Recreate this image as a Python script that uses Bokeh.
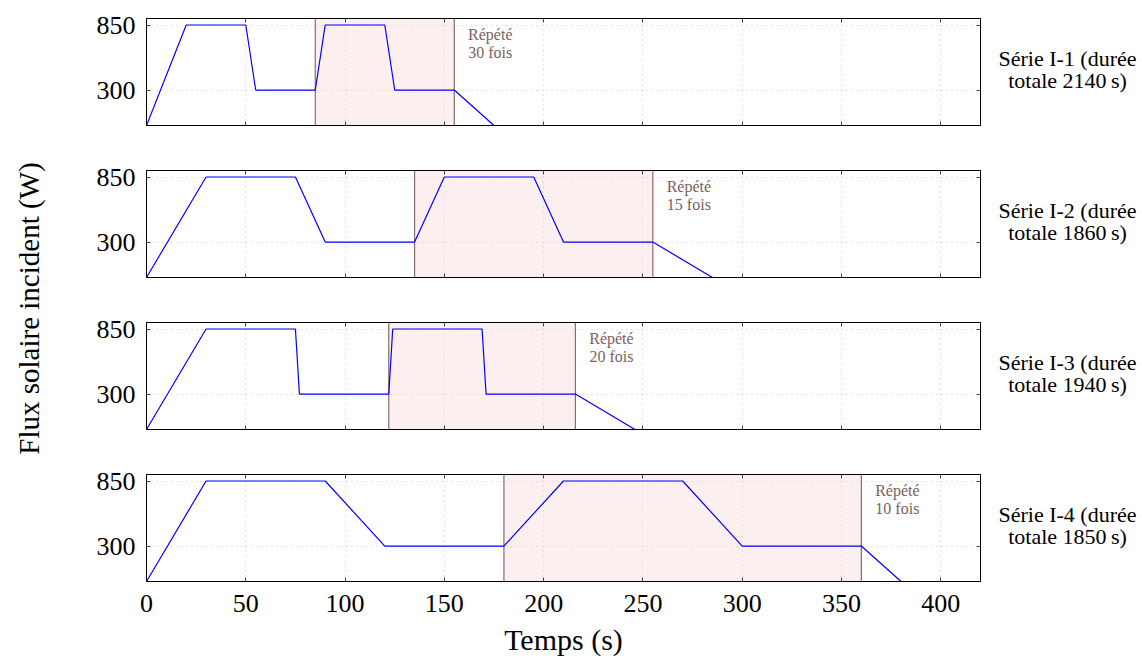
import math
from bokeh.plotting import figure
from bokeh.models import Range1d, FixedTicker, LinearAxis, BoxAnnotation
from bokeh.layouts import column, row
from bokeh.embed import file_html
from bokeh.resources import INLINE
from bokeh.core.properties import value

FONT = "Liberation Serif"

# ---------------- data ----------------
x_ticks = [0, 50, 100, 150, 200, 250, 300, 350, 400]
y_ticks = [300, 850]
x_min, x_max = 0, 420
y_min, y_max = 0, 905

series_names = ["Série I-1", "Série I-2", "Série I-3", "Série I-4"]
total_durations = [2140, 1860, 1940, 1850]
repeat_counts = [30, 15, 20, 10]

flux_levels = [0, 850, 850, 300, 300, 850, 850, 300, 300, 0]
time_s1 = [0, 20, 50, 55, 85, 90, 120, 125, 155, 175]
time_s2 = [0, 30, 75, 90, 135, 150, 195, 210, 255, 285]
time_s3 = [0, 30, 75, 77, 122, 124, 169, 171, 216, 246]
time_s4 = [0, 30, 90, 120, 180, 210, 270, 300, 360, 380]
times = [time_s1, time_s2, time_s3, time_s4]

repeat_start = [85, 135, 122, 180]
repeat_end = [155, 255, 216, 360]

x_label = "Temps (s)"
y_label = "Flux solaire incident (W)"

# ---------------- style / layout ----------------
LINE_BLUE = "#0000ff"
SHADE_FILL = "#f0c0c0"
SHADE_LINE = "#8a6a6a"
NOTE_COLOR = "#7d5e5e"
GRID_COLOR = "#c8c8c8"
TICK_COLOR = "#444444"

FRAME_H = 107
TOP_FIRST = 18
TOP = 10
BOTTOM = 35
BOTTOM_LAST = 79
LEFT = 100
FRAME_W = 834
RIGHT = 6
YLABEL_W = 46
RLABEL_W = 154


def blank_axis(ticks):
    ax = LinearAxis(ticker=FixedTicker(ticks=ticks))
    ax.major_label_overrides = {t: "" for t in ticks}
    ax.major_label_text_font_size = "0px"
    ax.major_label_standoff = 0
    ax.major_tick_in = 4
    ax.major_tick_out = 0
    ax.minor_tick_line_color = None
    ax.major_tick_line_color = TICK_COLOR
    ax.axis_line_color = "black"
    return ax


panels = []
frame_tops = []
y_cursor = 0
for i in range(4):
    last = i == 3
    top = TOP_FIRST if i == 0 else TOP
    bottom = BOTTOM_LAST if last else BOTTOM
    p = figure(width=LEFT + FRAME_W + RIGHT, height=top + FRAME_H + bottom,
               x_range=Range1d(x_min, x_max), y_range=Range1d(y_min, y_max),
               output_backend="svg", toolbar_location=None,
               min_border_left=LEFT, min_border_right=RIGHT,
               min_border_top=top, min_border_bottom=bottom)
    frame_tops.append(y_cursor + top)
    y_cursor += p.height
    p.outline_line_color = "black"
    p.outline_line_width = 1

    # grid
    p.xgrid.ticker = FixedTicker(ticks=x_ticks)
    p.ygrid.ticker = FixedTicker(ticks=y_ticks)
    p.grid.grid_line_color = GRID_COLOR
    p.grid.grid_line_dash = "1 4"
    p.grid.grid_line_width = 1

    # left axis
    p.yaxis.ticker = FixedTicker(ticks=y_ticks)
    p.yaxis.major_tick_in = 4
    p.yaxis.major_tick_out = 0
    p.yaxis.minor_tick_line_color = None
    p.yaxis.major_tick_line_color = TICK_COLOR
    p.yaxis.axis_line_color = "black"
    p.yaxis.major_label_text_font = FONT
    p.yaxis.major_label_text_font_size = "26px"
    p.yaxis.major_label_text_color = "black"
    p.yaxis.major_label_standoff = 11

    # bottom axis
    p.xaxis.ticker = FixedTicker(ticks=x_ticks)
    p.xaxis.major_tick_in = 4
    p.xaxis.major_tick_out = 0
    p.xaxis.minor_tick_line_color = None
    p.xaxis.major_tick_line_color = TICK_COLOR
    p.xaxis.axis_line_color = "black"
    if last:
        p.xaxis.major_label_text_font = FONT
        p.xaxis.major_label_text_font_size = "26px"
        p.xaxis.major_label_text_color = "black"
        p.xaxis.major_label_standoff = 13
        p.xaxis.axis_label = x_label
        p.xaxis.axis_label_text_font = FONT
        p.xaxis.axis_label_text_font_size = "30px"
        p.xaxis.axis_label_text_font_style = "normal"
        p.xaxis.axis_label_text_color = "black"
        p.xaxis.axis_label_standoff = 8
    else:
        p.xaxis.major_label_overrides = {t: "" for t in x_ticks}
        p.xaxis.major_label_text_font_size = "0px"
        p.xaxis.major_label_standoff = 0

    # top / right tick axes (no labels)
    p.add_layout(blank_axis(x_ticks), "above")
    p.add_layout(blank_axis(y_ticks), "right")

    # repeated block
    box = BoxAnnotation(left=repeat_start[i], right=repeat_end[i],
                        fill_color=SHADE_FILL, fill_alpha=0.25,
                        line_color=SHADE_LINE, line_width=1.2, line_alpha=1.0,
                        level="underlay")
    p.add_layout(box)

    # profile
    p.line(times[i], flux_levels, line_color=LINE_BLUE, line_width=1.2)

    # repeat note
    p.text(x=[repeat_end[i]], y=[y_max], text=["Répété"],
           x_offset=36, y_offset=16, text_align="center", text_baseline="middle",
           text_font=value(FONT), text_font_size="16px", text_color=NOTE_COLOR)
    p.text(x=[repeat_end[i]], y=[y_max], text=[f"{repeat_counts[i]} fois"],
           x_offset=36, y_offset=34, text_align="center", text_baseline="middle",
           text_font=value(FONT), text_font_size="16px", text_color=NOTE_COLOR)
    panels.append(p)

total_h = y_cursor

# y label column (coordinates in pixels, y downward)
yl = figure(width=YLABEL_W, height=total_h, x_range=Range1d(0, YLABEL_W),
            y_range=Range1d(total_h, 0), output_backend="svg", toolbar_location=None,
            x_axis_location=None, y_axis_location=None, min_border=0)
yl.outline_line_color = None
yl.grid.visible = False
yl.text(x=[28], y=[308], text=[y_label], angle=math.pi / 2,
        text_align="center", text_baseline="middle",
        text_font=value(FONT), text_font_size="29px", text_color="black")

# series labels column (coordinates in pixels, y downward)
rl = figure(width=RLABEL_W, height=total_h, x_range=Range1d(0, RLABEL_W),
            y_range=Range1d(total_h, 0), output_backend="svg", toolbar_location=None,
            x_axis_location=None, y_axis_location=None, min_border=0)
rl.outline_line_color = None
rl.grid.visible = False
line1 = [f"{n} (durée" for n in series_names]
line2 = [f"totale {d}\u2009s)" for d in total_durations]
rl.text(x=[81] * 4, y=[t + 40 for t in frame_tops], text=line1,
        text_align="center", text_baseline="middle",
        text_font=value(FONT), text_font_size="22px", text_color="black")
rl.text(x=[81] * 4, y=[t + 62 for t in frame_tops], text=line2,
        text_align="center", text_baseline="middle",
        text_font=value(FONT), text_font_size="22px", text_color="black")

layout = row(yl, column(*panels), rl)

open("out.html", "w").write(file_html(layout, INLINE))
